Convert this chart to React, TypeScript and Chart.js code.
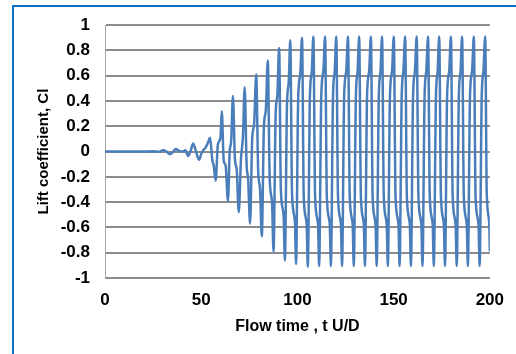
import React, { useEffect, useRef } from "react";
import { Chart, registerables } from "chart.js";

Chart.register(...registerables);

// Flow time t U/D and lift coefficient Cl
const onsetTime = [0, 10, 20, 25, 28, 30.2, 32, 33.7, 35.2, 36.8, 38.5, 40.2, 41.8, 43.2, 44.6, 45.8, 47.3, 48.9, 50, 51, 52.2, 53.5];
const onsetCl = [0, 0, 0, 0.003, -0.002, 0.01, 0.0, -0.02, -0.005, 0.02, 0.005, 0, 0.01, -0.035, 0.01, 0.065, 0.0, -0.065, -0.02, 0.01, 0.03, 0.07];

const growthTime = [
  54.6, 55.8, 56.5, 57.5, 58.7, 60.0,
  60.7, 61.7, 62.7, 63.9, 64.8, 65.6,
  66.5, 67.5, 68.5, 69.5, 70.7, 71.7,
  72.6, 73.6, 74.4, 75.4, 76.5, 77.5,
  78.6, 79.6, 80.6, 81.5, 82.6, 83.6,
  84.6, 85.6, 86.8, 87.6, 88.7, 89.6,
  90.5, 91.4, 92.8, 93.5, 94.6, 95.5,
  96.3, 97.2, 98.7, 99.3, 100.4, 101.5,
];
const growthCl = [
  0.11, -0.07, -0.11, -0.23, 0.06, 0.11,
  0.32, -0.07, -0.11, -0.39, 0.0, 0.09,
  0.44, -0.05, -0.15, -0.48, -0.05, 0.12,
  0.51, -0.1, -0.22, -0.57, 0.1, 0.22,
  0.61, -0.15, -0.3, -0.67, 0.2, 0.33,
  0.72, -0.22, -0.4, -0.79, 0.3, 0.45,
  0.82, -0.3, -0.5, -0.86, 0.38, 0.55,
  0.88, -0.33, -0.55, -0.89, 0.42, 0.62,
];

const saturatedTime = [
  102.4, 103.3, 104.8, 105.4, 106.5, 107.5,
  108.3, 109.2, 110.7, 111.3, 112.4, 113.5,
  114.4, 115.3, 116.8, 117.4, 118.5, 119.4,
  120.2, 121.1, 122.6, 123.2, 124.3, 125.4,
  126.3, 127.2, 128.7, 129.3, 130.4, 131.3,
  132.1, 133.0, 134.5, 135.1, 136.2, 137.3,
  138.2, 139.1, 140.6, 141.2, 142.3, 143.2,
  144.0, 144.9, 146.4, 147.0, 148.1, 149.2,
  150.1, 151.0, 152.5, 153.1, 154.2, 155.1,
  156.0, 156.9, 158.4, 159.0, 160.1, 161.1,
  162.0, 162.9, 164.4, 165.0, 166.1, 167.0,
  167.9, 168.8, 170.3, 170.9, 172.0, 172.9,
  173.7, 174.6, 176.1, 176.7, 177.8, 178.9,
  179.8, 180.7, 182.2, 182.8, 183.9, 184.8,
  185.6, 186.5, 188.0, 188.6, 189.7, 190.8,
  191.7, 192.6, 194.1, 194.7, 195.8, 196.7,
  197.6, 198.4, 199.7, 200,
];
const saturatedCl = [
  0.9, -0.36, -0.57, -0.91, 0.44, 0.64,
  0.91, -0.36, -0.57, -0.905, 0.44, 0.64,
  0.91, -0.36, -0.57, -0.905, 0.44, 0.64,
  0.91, -0.36, -0.57, -0.905, 0.44, 0.64,
  0.91, -0.36, -0.57, -0.905, 0.44, 0.64,
  0.91, -0.36, -0.57, -0.905, 0.44, 0.64,
  0.91, -0.36, -0.57, -0.905, 0.44, 0.64,
  0.91, -0.36, -0.57, -0.905, 0.44, 0.64,
  0.91, -0.36, -0.57, -0.905, 0.44, 0.64,
  0.91, -0.36, -0.57, -0.905, 0.44, 0.64,
  0.91, -0.36, -0.57, -0.905, 0.44, 0.64,
  0.91, -0.36, -0.57, -0.905, 0.44, 0.64,
  0.91, -0.36, -0.57, -0.905, 0.44, 0.64,
  0.91, -0.36, -0.57, -0.905, 0.44, 0.64,
  0.91, -0.36, -0.57, -0.905, 0.44, 0.64,
  0.91, -0.36, -0.57, -0.905, 0.44, 0.64,
  0.91, -0.33, -0.57, -0.79,
];

const xTickValues = [0, 50, 100, 150, 200];
const yTickLabels = ["-1", "-0.8", "-0.6", "-0.4", "-0.2", "0", "0.2", "0.4", "0.6", "0.8", "1"];

const xTitle = "Flow time , t U/D";
const yTitle = "Lift coefficient, Cl";

const W = 516;
const H = 354;
const FONT = "'Liberation Sans', Arial, sans-serif";

export default function App() {
  const ref = useRef<HTMLCanvasElement | null>(null);

  useEffect(() => {
    if (!ref.current) return;
    const times = [...onsetTime, ...growthTime, ...saturatedTime];
    const values = [...onsetCl, ...growthCl, ...saturatedCl];
    const points = times.map((t, i) => ({ x: t, y: values[i] }));

    const chart = new Chart(ref.current, {
      type: "line",
      data: {
        datasets: [
          {
            data: points,
            borderColor: "#4A7EBB",
            borderWidth: 2.5,
            pointRadius: 0,
            fill: false,
            cubicInterpolationMode: "monotone",
            borderJoinStyle: "round",
          },
        ],
      },
      options: {
        responsive: false,
        animation: false,
        devicePixelRatio: 1,
        layout: { padding: { left: 35, top: 24, right: 25, bottom: 18 } },
        plugins: { legend: { display: false }, tooltip: { enabled: false } },
        scales: {
          x: {
            type: "linear",
            min: 0,
            max: 200,
            afterBuildTicks: (scale: any) => {
              scale.ticks = xTickValues.map((v) => ({ value: v }));
            },
            afterFit: (scale: any) => {
              scale.height = H - 18 - 278;
            },
            grid: { display: false, drawTicks: false },
            border: { display: false },
            ticks: {
              padding: 12,
              color: "#000",
              font: { family: FONT, size: 17, weight: "bold" },
              maxRotation: 0,
            },
            title: {
              display: true,
              text: xTitle,
              color: "#000",
              font: { family: FONT, size: 16, weight: "bold" },
              padding: { top: 0, bottom: 0 },
            },
          },
          y: {
            type: "linear",
            min: -1,
            max: 1,
            afterBuildTicks: (scale: any) => {
              scale.ticks = yTickLabels.map((l) => ({ value: parseFloat(l) }));
            },
            afterFit: (scale: any) => {
              scale.width = 105 - 35;
            },
            grid: { color: "#8C8C8C", lineWidth: 2, drawTicks: false },
            border: { display: true, color: "#A6A6A6", width: 1 },
            ticks: {
              padding: 15,
              color: "#000",
              font: { family: FONT, size: 17, weight: "bold" },
              callback: (_v: any, i: number) => yTickLabels[i],
            },
            title: {
              display: true,
              text: yTitle,
              color: "#000",
              font: { family: FONT, size: 15, weight: "bold" },
              padding: { top: 0, bottom: 0 },
            },
          },
        },
      },
    });
    return () => chart.destroy();
  }, []);

  return (
    <div
      style={{
        position: "absolute",
        left: 0,
        top: 0,
        width: W,
        height: H,
        overflow: "hidden",
        background: "#fff",
      }}
    >
      <div
        style={{
          position: "absolute",
          left: 12,
          top: 5,
          width: 700,
          height: 500,
          border: "2px solid #0F6FC0",
          boxSizing: "border-box",
        }}
      />
      <canvas ref={ref} width={W} height={H} style={{ position: "absolute", left: 0, top: 0 }} />
    </div>
  );
}
